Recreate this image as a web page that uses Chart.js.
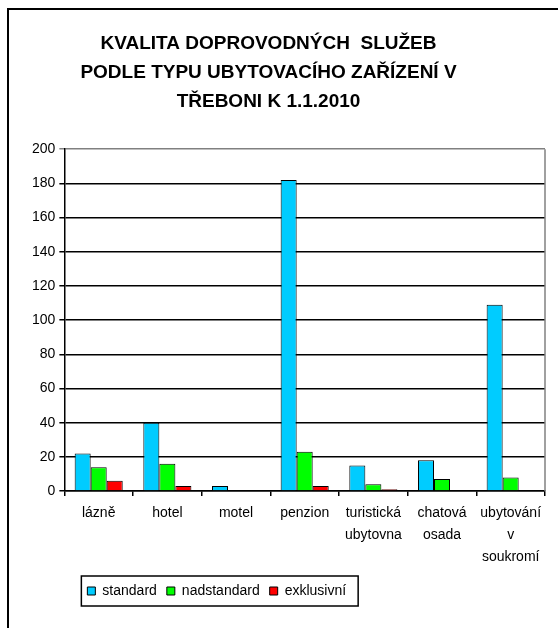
<!DOCTYPE html>
<html>
<head>
<meta charset="utf-8">
<script src="https://cdn.jsdelivr.net/npm/chart.js@4.4.1/dist/chart.umd.min.js"></script>
<style>
  html, body { margin: 0; padding: 0; background: #fff; }
  body { width: 558px; height: 628px; overflow: hidden; position: relative; }
  #frame { position: absolute; left: 7px; top: 8px; width: 700px; height: 800px; border: 2px solid #000; }
  #wrap { position: absolute; left: 0; top: 0; width: 558px; height: 628px; }
</style>
</head>
<body>
<div id="frame"></div>
<div id="wrap"><canvas id="chart"></canvas></div>
<script>
const categories = ['lázně', 'hotel', 'motel', 'penzion', ['turistická', 'ubytovna'], ['chatová', 'osada'], ['ubytování', 'v', 'soukromí']];
const standard = [22, 40, 3, 182, 15, 18, 109];
const nadstandard = [14, 16, 0, 23, 4, 7, 8];
const exklusivni = [6, 3, 0, 3, 1, 0, 0];
const yTicks = [0, 20, 40, 60, 80, 100, 120, 140, 160, 180, 200];

const FONT = '"Liberation Sans", Arial, sans-serif';

// title centred a bit left, legend a bit right, with a box round the legend
const frameBits = {
  id: 'frameBits',
  afterLayout(chart) {
    chart.titleBlock.left -= 18;
    chart.titleBlock.right -= 18;
    chart.legend.left += 13;
    chart.legend.right += 13;
  },
  afterDraw(chart) {
    const boxes = chart.legend.legendHitBoxes;
    if (!boxes || !boxes.length) return;
    const first = boxes[0], last = boxes[boxes.length - 1];
    const ctx = chart.ctx;
    const midY = first.top + first.height / 2;
    ctx.save();
    ctx.strokeStyle = '#000';
    ctx.lineWidth = 1.5;
    ctx.strokeRect(first.left - 6, midY - 15, last.left + last.width - first.left + 18, 30);
    // right edge of plot area
    const a = chart.chartArea;
    ctx.strokeStyle = '#808080';
    ctx.lineWidth = 1.5;
    ctx.beginPath();
    ctx.moveTo(a.right, a.top);
    ctx.lineTo(a.right, a.bottom);
    ctx.stroke();
    ctx.restore();
  }
};

new Chart(document.getElementById('chart'), {
  type: 'bar',
  data: {
    labels: categories,
    datasets: [
      { label: 'standard', data: standard, backgroundColor: '#00CCFF', borderColor: '#000', borderWidth: 1 },
      { label: 'nadstandard', data: nadstandard, backgroundColor: '#00FF00', borderColor: '#000', borderWidth: 1 },
      { label: 'exklusivní', data: exklusivni, backgroundColor: '#FF0000', borderColor: '#000', borderWidth: 1 }
    ]
  },
  options: {
    responsive: true,
    maintainAspectRatio: false,
    animation: false,
    categoryPercentage: 0.7,
    barPercentage: 1,
    layout: { padding: { left: 28, right: 13, top: 0, bottom: 20 } },
    plugins: {
      title: {
        display: true,
        text: ['KVALITA DOPROVODNÝCH  SLUŽEB', 'PODLE TYPU UBYTOVACÍHO ZAŘÍZENÍ V', 'TŘEBONI K 1.1.2010'],
        color: '#000',
        font: { family: FONT, size: 19, weight: 'bold', lineHeight: 1.53 },
        padding: { top: 29, bottom: 33 }
      },
      legend: {
        position: 'bottom',
        align: 'start',
        fullSize: false,
        labels: {
          color: '#000',
          font: { family: FONT, size: 14 },
          boxWidth: 8,
          boxHeight: 8,
          padding: 10
        }
      },
      tooltip: { enabled: false }
    },
    scales: {
      x: {
        grid: { drawOnChartArea: false, drawTicks: true, tickLength: 5, color: '#000', lineWidth: 1.5 },
        border: { color: '#000', width: 1.5 },
        ticks: { color: '#000', font: { family: FONT, size: 14, lineHeight: 1.57 }, padding: 6, maxRotation: 0, autoSkip: false }
      },
      y: {
        min: 0,
        max: 200,
        afterBuildTicks(axis) { axis.ticks = yTicks.map(v => ({ value: v })); },
        grid: {
          color: ctx => (ctx.tick && ctx.tick.value === 200 ? '#808080' : '#000'),
          lineWidth: 1.5,
          tickLength: 5
        },
        border: { color: '#000', width: 1.5 },
        ticks: { color: '#000', font: { family: FONT, size: 14 }, padding: 4 }
      }
    }
  },
  plugins: [frameBits]
});
</script>
</body>
</html>
